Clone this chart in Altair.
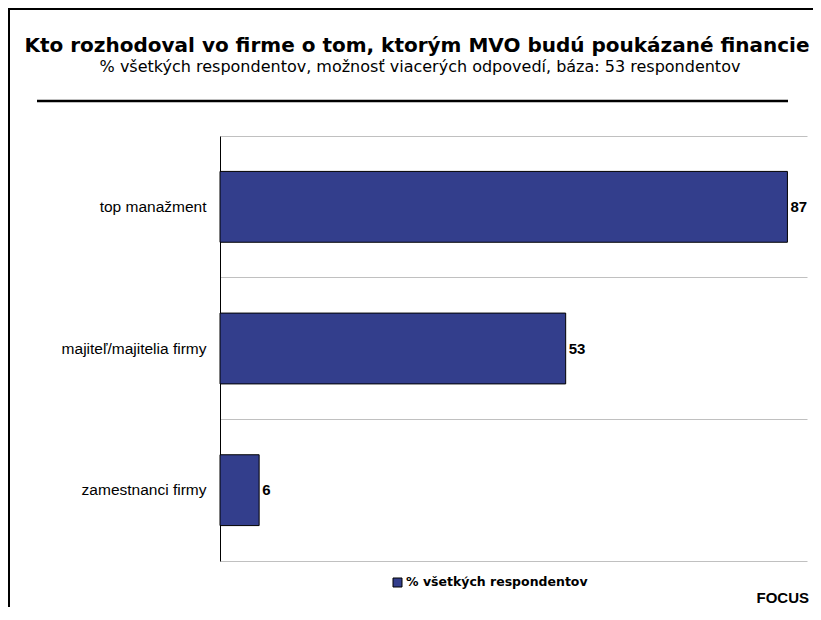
import altair as alt
import pandas as pd

categories = ["top manažment", "majiteľ/majitelia firmy", "zamestnanci firmy"]
values = [87, 53, 6]
series_name = "% všetkých respondentov"
title_text = "Kto rozhodoval vo firme o tom, ktorým MVO budú poukázané financie"
subtitle_text = "% všetkých respondentov, možnosť viacerých odpovedí, báza: 53 respondentov"
source_text = "FOCUS"

BAR = "#333E8C"
GRID = "#C0C0C0"
W, H = 587, 425

df = pd.DataFrame({"cat": categories, "val": values})
one = alt.Data(values=[{"a": 1}])

y_enc = alt.Y(
    "cat:N",
    sort=categories,
    scale=alt.Scale(paddingInner=0, paddingOuter=0),
    axis=alt.Axis(
        title=None, ticks=False, domainColor="black", domainWidth=1,
        grid=True, gridColor=GRID, gridWidth=1, bandPosition=0,
        labelFont="Liberation Sans", labelFontSize=15.5, labelColor="#000000",
        labelPadding=14, labelLimit=300,
    ),
)
x_enc = alt.X(
    "val:Q",
    scale=alt.Scale(domain=[0, 90], nice=False),
    axis=alt.Axis(title=None, labels=False, ticks=False, grid=False,
                  domainColor=GRID, domainWidth=1),
)

bars = alt.Chart(df).mark_bar(
    height=alt.RelativeBandSize(0.5), color=BAR, stroke="black", strokeWidth=1
).encode(x=x_enc, y=y_enc)

labels = alt.Chart(df).mark_text(
    align="left", baseline="middle", dx=3, font="Liberation Sans",
    fontSize=15, fontWeight="bold", color="black"
).encode(x=alt.X("val:Q"), y=alt.Y("cat:N", sort=categories), text="val:Q")

title = alt.Chart(one).mark_text(
    text=title_text, align="center", baseline="alphabetic",
    font="DejaVu Sans", fontSize=20, fontWeight="bold", color="black"
).encode(x=alt.value(197), y=alt.value(-84))

subtitle = alt.Chart(one).mark_text(
    text=subtitle_text, align="center", baseline="alphabetic",
    font="DejaVu Sans", fontSize=16, fontWeight="normal", color="black"
).encode(x=alt.value(200), y=alt.value(-64))

sep = alt.Chart(one).mark_rule(color="black", strokeWidth=2.5).encode(
    x=alt.value(-183), x2=alt.value(568), y=alt.value(-35)
)
top_border = alt.Chart(one).mark_rule(color="black", strokeWidth=2).encode(
    x=alt.value(-211), x2=alt.value(610), y=alt.value(-127)
)
left_border = alt.Chart(one).mark_rule(color="black", strokeWidth=2).encode(
    x=alt.value(-211), y=alt.value(-128), y2=alt.value(500)
)

legend_box = alt.Chart(one).mark_rect(color=BAR, stroke="black", strokeWidth=1).encode(
    x=alt.value(173), x2=alt.value(182), y=alt.value(442), y2=alt.value(451)
)
legend_text = alt.Chart(one).mark_text(
    text=series_name, align="left", baseline="middle",
    font="DejaVu Sans", fontSize=12.5, fontWeight="bold", color="black"
).encode(x=alt.value(186), y=alt.value(446))

source = alt.Chart(one).mark_text(
    text=source_text, align="right", baseline="middle",
    font="Liberation Sans", fontSize=15, fontWeight="bold", color="black"
).encode(x=alt.value(589), y=alt.value(462))

chart = alt.layer(
    bars, labels, title, subtitle, sep, top_border, left_border,
    legend_box, legend_text, source
).properties(
    width=W, height=H,
    autosize=alt.AutoSizeParams(type="none"),
    padding={"left": 212, "top": 128, "right": 6, "bottom": 46},
    background="white",
).configure_view(stroke=None)

chart.save("out.html", embed_options={"renderer": "svg", "actions": False})
